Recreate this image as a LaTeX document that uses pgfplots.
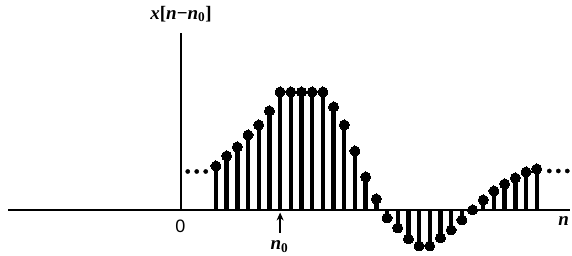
\documentclass[border=0pt]{standalone}
\usepackage{fontspec}
\setmainfont{Liberation Serif}
\setsansfont{Liberation Sans}
\usepackage{pgfplots}
\pgfplotsset{compat=1.18}
\usetikzlibrary{arrows.meta}
\begin{document}
\begin{tikzpicture}
\begin{axis}[
  scale only axis, width=572pt, height=256pt,
  xmin=-16.93, xmax=36.57, ymin=-46, ymax=210,
  axis lines=none, ticks=none, clip=false,
]
% axes
\addplot[black, line width=2.2pt, forget plot] coordinates {(-16.18,0) (36.39,0)};
\addplot[black, line width=2pt, forget plot] coordinates {(0,0) (0,177)};
% stems
\addplot[black, ycomb, line width=4.4pt, mark=*, mark size=5pt,
  mark options={solid, line width=0pt}] coordinates {
(3.27,44) (4.27,54) (5.27,63) (6.27,75) (7.27,85) (8.27,99)
(9.27,118) (10.27,118) (11.27,118) (12.27,118) (13.27,118)
(14.27,103) (15.27,85) (16.27,59) (17.27,33) (18.27,11)
(19.27,-8) (20.27,-18) (21.27,-29) (22.27,-36) (23.27,-36)
(24.27,-28) (25.27,-20) (26.27,-10) (27.27,0) (28.27,10)
(29.27,19) (30.27,26) (31.27,32) (32.27,38) (33.27,41)
};
% ellipsis dots
\addplot[black, only marks, mark=*, mark size=2.1pt] coordinates {
(0.63,38.5) (1.47,38.5) (2.31,38.5)
(34.45,39) (35.29,39) (36.13,39)
};
% labels
\node[font=\fontsize{19}{22}\selectfont\bfseries] at (axis cs:0,196)
  {\textit{x}[\textit{n}−\textit{n}\textsubscript{0}]};
\node[font=\fontsize{18}{20}\selectfont\sffamily] at (axis cs:-0.05,-16.7) {0};
\node[font=\fontsize{19}{22}\selectfont\bfseries\itshape] at (axis cs:35.8,-11.5) {n};
\node[font=\fontsize{19}{22}\selectfont\bfseries] at (axis cs:9.2,-37) {\textit{n}\textsubscript{0}};
\draw[black, line width=2pt, -{Stealth[length=8pt,width=7pt]}] (axis cs:9.27,-23) -- (axis cs:9.27,-2.5);
\coordinate (bl) at (axis cs:-16.93,-46);
\coordinate (tr) at (axis cs:36.57,210);
\end{axis}
\pgfresetboundingbox
\path[use as bounding box] (bl) rectangle (tr);
\end{tikzpicture}
\end{document}
